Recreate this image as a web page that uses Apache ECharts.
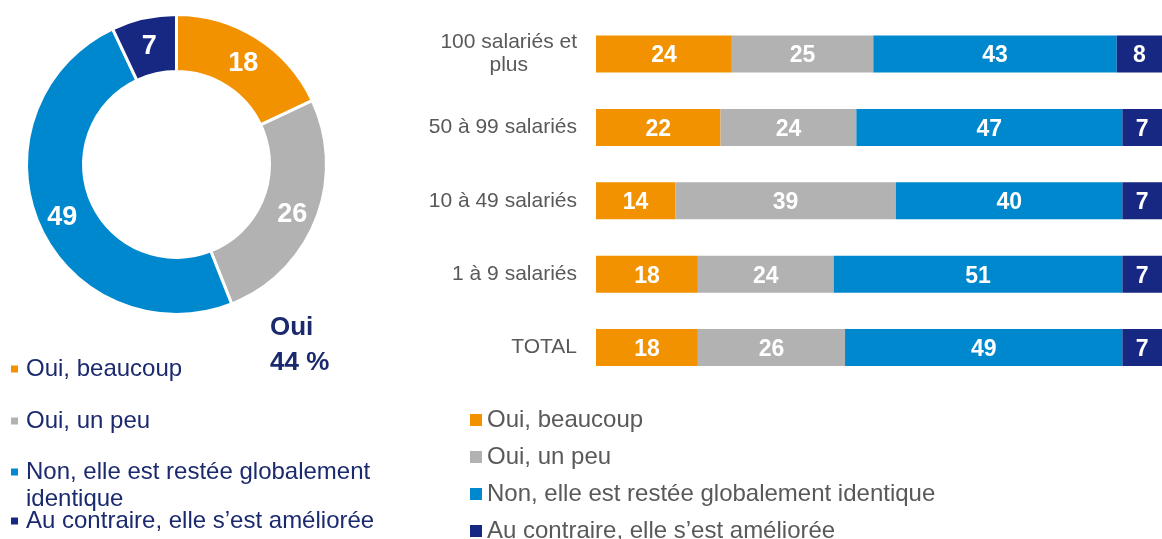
<!DOCTYPE html>
<html>
<head>
<meta charset="utf-8">
<style>
  html, body { margin: 0; padding: 0; background: #ffffff; }
  #chart { width: 1162px; height: 539px; }
</style>
<script src="https://cdn.jsdelivr.net/npm/echarts@6/dist/echarts.min.js"></script>
</head>
<body>
<div id="chart"></div>
<script>
// Answer categories (shared by the donut and the stacked bars)
const answers = [
  'Oui, beaucoup',
  'Oui, un peu',
  'Non, elle est restée globalement identique',
  'Au contraire, elle s\u2019est améliorée'
];
const answerColors = ['#F39200', '#B2B2B2', '#0088CE', '#162882'];

// Company size groups, top to bottom
const sizes = ['100 salariés et plus', '50 à 99 salariés', '10 à 49 salariés', '1 à 9 salariés', 'TOTAL'];

// Percentages per size group
const beaucoup  = [24, 22, 14, 18, 18];
const unPeu     = [25, 24, 39, 24, 26];
const identique = [43, 47, 40, 51, 49];
const amelioree = [8, 7, 7, 7, 7];

// Overall distribution (donut)
const totalShares = [18, 26, 49, 7];

const FONT = "'Liberation Sans', Arial, sans-serif";
const NAVY_TEXT = '#1B2A6E';
const GREY_TEXT = '#595959';

const ouiTotal = totalShares[0] + totalShares[1];

const barSeriesValues = [beaucoup, unPeu, identique, amelioree];

const chart = echarts.init(document.getElementById('chart'), null, { renderer: 'canvas' });

// Left-hand legend: one block per answer so each can sit at its own height
const leftLegendTops = [355.5, 407.5, 431.5, 507.5];
const leftLegends = answers.map((name, i) => ({
  data: [name],
  orient: 'vertical',
  left: 11,
  top: leftLegendTops[i],
  padding: 0,
  itemWidth: 7,
  itemHeight: 7,
  icon: 'rect',
  selectedMode: false,
  formatter: n => (i === 2 ? '\nNon, elle est restée globalement\nidentique' : n),
  textStyle: {
    fontFamily: FONT,
    fontSize: 24,
    color: NAVY_TEXT,
    lineHeight: 27,
    padding: [0, 0, 0, 3]
  }
}));

const option = {
  backgroundColor: '#ffffff',
  animation: false,
  title: {
    text: 'Oui\n' + ouiTotal + ' %',
    left: 270,
    top: 310,
    padding: 0,
    textStyle: {
      fontFamily: FONT,
      fontSize: 26,
      fontWeight: 'bold',
      color: NAVY_TEXT,
      lineHeight: 35
    }
  },
  legend: [
    ...leftLegends,
    {
      data: answers,
      orient: 'vertical',
      left: 470,
      top: 408,
      height: 160,
      padding: 0,
      itemWidth: 12,
      itemHeight: 12,
      itemGap: 13,
      icon: 'rect',
      selectedMode: false,
      textStyle: {
        fontFamily: FONT,
        fontSize: 24,
        color: GREY_TEXT,
        lineHeight: 24
      }
    }
  ],
  grid: {
    left: 596,
    right: -7,
    top: 17.3,
    height: 367,
    containLabel: false
  },
  xAxis: {
    type: 'value',
    min: 0,
    max: 100,
    show: false
  },
  yAxis: {
    type: 'category',
    data: sizes,
    inverse: true,
    axisLine: { show: false },
    axisTick: { show: false },
    splitLine: { show: false },
    axisLabel: {
      margin: 19,
      fontFamily: FONT,
      fontSize: 21,
      color: GREY_TEXT,
      lineHeight: 23,
      formatter: v => (v === '100 salariés et plus' ? '{a|100 salariés et}\n{b|plus}' : v),
      rich: {
        a: { fontFamily: FONT, fontSize: 21, color: GREY_TEXT, lineHeight: 23 },
        b: { fontFamily: FONT, fontSize: 21, color: GREY_TEXT, lineHeight: 23, align: 'center' }
      }
    }
  },
  series: [
    ...barSeriesValues.map((vals, i) => ({
      name: answers[i],
      type: 'bar',
      stack: 'total',
      data: vals,
      barWidth: 37,
      itemStyle: { color: answerColors[i] },
      label: {
        show: true,
        position: 'inside',
        offset: [0, 2],
        color: '#ffffff',
        fontFamily: FONT,
        fontSize: 23,
        fontWeight: 'bold'
      },
      emphasis: { disabled: true }
    })),
    {
      name: 'Ensemble',
      type: 'pie',
      center: [176.5, 164.5],
      radius: [93, 150],
      startAngle: 90,
      clockwise: true,
      avoidLabelOverlap: false,
      data: totalShares.map((v, i) => ({
        name: answers[i],
        value: v,
        itemStyle: { color: answerColors[i] }
      })),
      itemStyle: { borderColor: '#ffffff', borderWidth: 3 },
      label: {
        show: true,
        position: 'inside',
        offset: [0, 4],
        formatter: '{c}',
        color: '#ffffff',
        fontFamily: FONT,
        fontSize: 27,
        fontWeight: 'bold'
      },
      labelLine: { show: false },
      emphasis: { disabled: true }
    }
  ]
};

chart.setOption(option);
</script>
</body>
</html>
